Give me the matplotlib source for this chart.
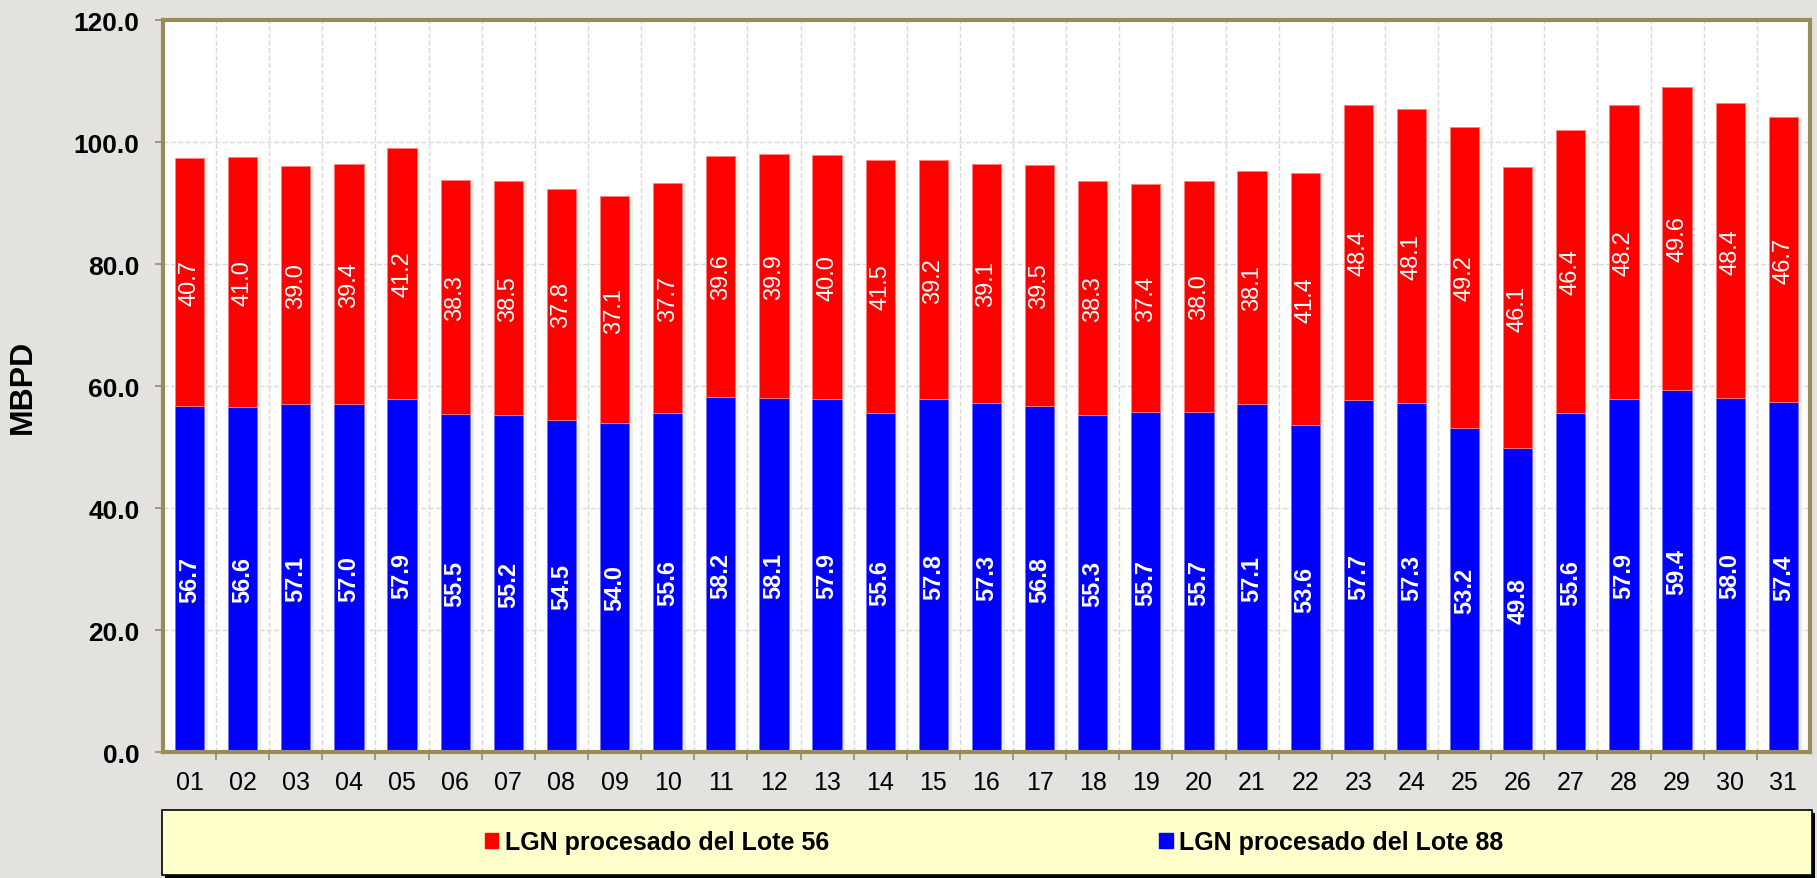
import matplotlib.pyplot as plt
from matplotlib.patches import Patch, Rectangle
import numpy as np

plt.rcParams['font.family'] = ['Liberation Sans', 'DejaVu Sans']

days = ['01', '02', '03', '04', '05', '06', '07', '08', '09', '10',
        '11', '12', '13', '14', '15', '16', '17', '18', '19', '20',
        '21', '22', '23', '24', '25', '26', '27', '28', '29', '30', '31']
lote88 = [56.7, 56.6, 57.1, 57.0, 57.9, 55.5, 55.2, 54.5, 54.0, 55.6,
          58.2, 58.1, 57.9, 55.6, 57.8, 57.3, 56.8, 55.3, 55.7, 55.7,
          57.1, 53.6, 57.7, 57.3, 53.2, 49.8, 55.6, 57.9, 59.4, 58.0, 57.4]
lote56 = [40.7, 41.0, 39.0, 39.4, 41.2, 38.3, 38.5, 37.8, 37.1, 37.7,
          39.6, 39.9, 40.0, 41.5, 39.2, 39.1, 39.5, 38.3, 37.4, 38.0,
          38.1, 41.4, 48.4, 48.1, 49.2, 46.1, 46.4, 48.2, 49.6, 48.4, 46.7]
yticks = [0, 20, 40, 60, 80, 100, 120]

olive = '#9A8C58'
fig = plt.figure(figsize=(18.17, 8.79), dpi=100, facecolor='#E3E2DE')
ax = fig.add_axes([0.0897, 0.1433, 0.9064, 0.8327])
ax.set_facecolor('white')

x = np.arange(len(days))
w = 0.55
# faint shadow to the right of each bar
ax.bar(x + 0.07, np.array(lote88) + np.array(lote56), w, color='#EDF0E0', zorder=1)
ax.bar(x, lote88, w, color='#0000FF', edgecolor='#7070FF', linewidth=0.6, zorder=2)
ax.bar(x, lote56, w, bottom=lote88, color='#FF0000', edgecolor='#FF8080', linewidth=0.6, zorder=2)

for i in range(len(days)):
    ax.text(x[i], lote88[i] / 2, f'{lote88[i]:.1f}', rotation=90, ha='center', va='center',
            color='white', fontsize=17, fontweight='bold', zorder=3)
    ax.text(x[i], lote88[i] + lote56[i] / 2, f'{lote56[i]:.1f}', rotation=90, ha='center',
            va='center', color='white', fontsize=17, zorder=3)

ax.set_xlim(-0.5, len(days) - 0.5)
ax.set_ylim(0, 120)
ax.set_yticks(yticks)
ax.set_yticklabels([f'{v:.1f}' for v in yticks], fontsize=19, fontweight='bold')
ax.set_xticks(x)
ax.set_xticklabels(days, fontsize=18)
ax.set_xticks(x[:-1] + 0.5, minor=True)
ax.tick_params(axis='x', which='major', length=0, pad=13)
ax.tick_params(axis='x', which='minor', length=5.8, color=olive, width=1.2)
ax.tick_params(axis='y', length=5.8, color=olive, width=1.2, pad=11)
ax.grid(axis='y', which='major', color='#D9D9D9', linestyle='--', linewidth=1, zorder=0)
ax.grid(axis='x', which='minor', color='#D9D9D9', linestyle='--', linewidth=1, zorder=0)
ax.set_axisbelow(True)
for s in ax.spines.values():
    s.set_color(olive)
    s.set_linewidth(3)

ax.set_ylabel('MBPD', fontsize=23, fontweight='bold')
ax.yaxis.set_label_coords(-0.076, 0.5)

# legend box
fig.patches.append(Rectangle((0.0910, 0.0), 0.9080, 0.0740, transform=fig.transFigure,
                             facecolor='black', edgecolor='none', zorder=0))
fig.patches.append(Rectangle((0.0892, 0.0034), 0.9080, 0.0740, transform=fig.transFigure,
                             facecolor='#FFFFCC', edgecolor='black', linewidth=1.2, zorder=1))
handles = [Patch(color='#FF0000', label='LGN procesado del Lote 56'),
           Patch(color='#0000FF', label='LGN procesado del Lote 88')]
fig.legend(handles=handles, loc='center', bbox_to_anchor=(0.547, 0.0404), ncol=2,
           frameon=False, prop={'size': 18, 'weight': 'bold'}, handlelength=0.55,
           handleheight=0.55, handletextpad=0.25, columnspacing=13.2)

fig.savefig('out.png', dpi=100, facecolor=fig.get_facecolor())
